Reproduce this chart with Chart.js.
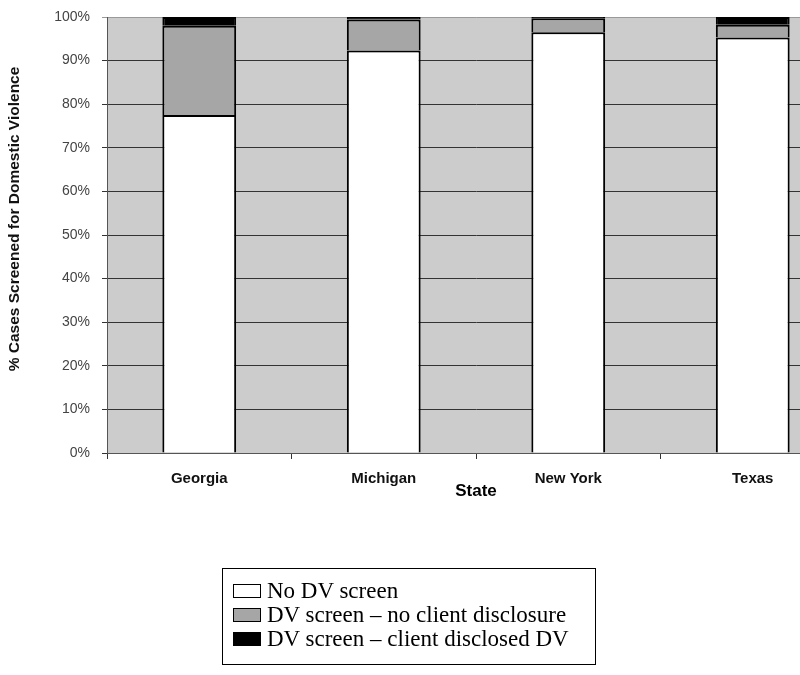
<!DOCTYPE html>
<html>
<head>
<meta charset="utf-8">
<script src="https://cdn.jsdelivr.net/npm/chart.js@4/dist/chart.umd.min.js"></script>
<style>
  html, body { margin: 0; padding: 0; background: #fff; overflow: hidden; width: 800px; height: 675px; }
  #wrap { position: absolute; left: 0; top: 0; width: 860px; height: 675px; }
  #legend {
    position: absolute; left: 222px; top: 568px; width: 372px; height: 85px;
    border: 1px solid #000; box-sizing: content-box;
    font-family: "Liberation Serif", "Times New Roman", serif; font-size: 23px; color: #000;
    padding-top: 10px;
  }
  #legend .item { display: flex; align-items: center; height: 24px; margin-left: 10px; }
  #legend .box { width: 26px; height: 12px; border: 1px solid #000; margin-right: 6px; }
</style>
</head>
<body>
<div id="wrap"><canvas id="chart"></canvas></div>
<div id="legend"></div>
<script>
// values (percent of cases)
const states = ["Georgia", "Michigan", "New York", "Texas"];
const noScreen = [77.5, 92.3, 96.5, 95.3];
const noDisclosure = [20.5, 7.1, 3.2, 2.9];
const disclosed = [2.0, 0.6, 0.3, 1.8];
const seriesLabels = ["No DV screen", "DV screen \u2013 no client disclosure", "DV screen \u2013 client disclosed DV"];
const seriesColors = ["#ffffff", "#a6a6a6", "#000000"];
const yTitle = "% Cases Screened for Domestic Violence";

// grey plot background
const plotBackground = {
  id: "plotBackground",
  beforeDraw(chart) {
    const { ctx, chartArea: a } = chart;
    ctx.save();
    ctx.fillStyle = "#cccccc";
    ctx.fillRect(a.left, a.top, a.right - a.left, a.bottom - a.top);
    ctx.restore();
  }
};

// y title sits a bit above the middle of the axis in the original
const yAxisTitle = {
  id: "yAxisTitle",
  afterDraw(chart) {
    const { ctx, chartArea: a } = chart;
    ctx.save();
    ctx.translate(15, a.top + 202);
    ctx.rotate(-Math.PI / 2);
    ctx.textAlign = "center";
    ctx.textBaseline = "middle";
    ctx.fillStyle = "#111";
    ctx.font = "bold 15.5px 'Liberation Sans', Arial, sans-serif";
    ctx.fillText(yTitle, 0, 0);
    ctx.restore();
  }
};

const datasets = [noScreen, noDisclosure, disclosed].map((values, i) => ({
  label: seriesLabels[i],
  data: values,
  backgroundColor: seriesColors[i],
  borderColor: "#000000",
  borderWidth: 2,
  categoryPercentage: 0.8,
  barPercentage: 0.5
}));

new Chart(document.getElementById("chart"), {
  type: "bar",
  data: { labels: states, datasets },
  plugins: [plotBackground, yAxisTitle],
  options: {
    responsive: true,
    maintainAspectRatio: false,
    animation: false,
    layout: { padding: { top: 17, right: 15, bottom: 169, left: 0 } },
    plugins: {
      legend: { display: false },
      tooltip: { enabled: false }
    },
    scales: {
      x: {
        stacked: true,
        afterFit(scale) { scale.height = 53; },
        grid: { drawOnChartArea: false, tickLength: 6, color: "#333" },
        border: { color: "#555", width: 1 },
        ticks: {
          padding: 11,
          color: "#111",
          font: { family: "Liberation Sans, Arial, sans-serif", size: 15, weight: "bold" }
        },
        title: {
          display: true,
          text: "State",
          color: "#000",
          padding: { top: 0, bottom: 4 },
          font: { family: "Liberation Sans, Arial, sans-serif", size: 17, weight: "bold" }
        }
      },
      y: {
        stacked: true,
        min: 0,
        max: 100,
        afterFit(scale) {
          scale.width = 107;
          scale.paddingTop = 0;
          scale.paddingBottom = 0;
        },
        grid: {
          color: c => (c.tick && c.tick.value === 100 ? "#999" : "#333"),
          tickLength: 5
        },
        border: { color: "#555", width: 1 },
        ticks: {
          stepSize: 10,
          padding: 12,
          color: "#444",
          font: { family: "Liberation Sans, Arial, sans-serif", size: 14 },
          callback: v => v + "%"
        }
      }
    }
  }
});

// boxed legend below the chart
const legend = document.getElementById("legend");
seriesLabels.forEach((label, i) => {
  const row = document.createElement("div");
  row.className = "item";
  const box = document.createElement("span");
  box.className = "box";
  box.style.background = seriesColors[i];
  row.appendChild(box);
  row.appendChild(document.createTextNode(label));
  legend.appendChild(row);
});
</script>
</body>
</html>
